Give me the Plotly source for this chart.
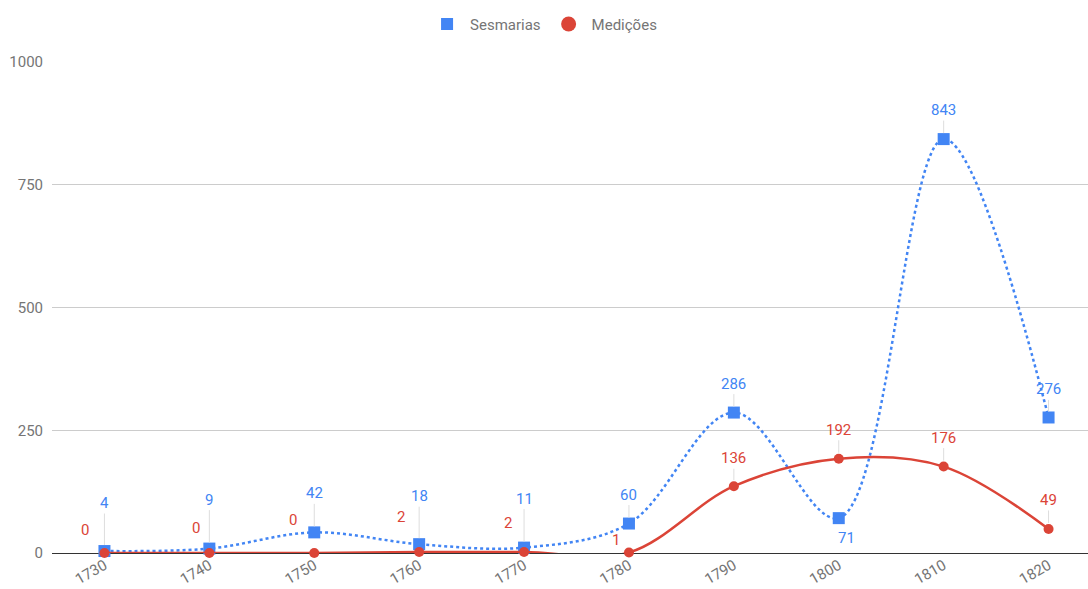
import plotly.graph_objects as go

decades = ["1730", "1740", "1750", "1760", "1770", "1780", "1790", "1800", "1810", "1820"]
sesmarias = [4, 9, 42, 18, 11, 60, 286, 71, 843, 276]
medicoes = [0, 0, 0, 2, 2, 1, 136, 192, 176, 49]

BLUE = "#4285F4"
RED = "#DB4437"
FONT = "Roboto, Arial, sans-serif"

# label offsets in pixels (dx, dy) relative to each point; stem drawn when directly above
ses_offsets = [(0, -48), (0, -49), (0, -39), (0, -48), (0, -49), (0, -29), (0, -29), (8, 20), (0, -29), (0, -28)]
med_offsets = [(-19, -23), (-13, -25), (-21, -33), (-18, -35), (-16, -29), (-13, -13), (0, -28), (0, -29), (0, -29), (0, -29)]

x = list(range(len(decades)))

fig = go.Figure()
fig.add_trace(go.Scatter(
    x=x, y=sesmarias, name="Sesmarias", mode="lines+markers", showlegend=False,
    line=dict(color=BLUE, width=2.5, dash="dot", shape="spline", smoothing=1),
    marker=dict(symbol="square", size=12, color=BLUE),
    cliponaxis=False,
))
fig.add_trace(go.Scatter(
    x=x, y=medicoes, name="Medições", mode="lines+markers", showlegend=False,
    line=dict(color=RED, width=2.5, shape="spline", smoothing=1),
    marker=dict(symbol="circle", size=10, color=RED),
    cliponaxis=False,
))
# legend entries: markers only
fig.add_trace(go.Scatter(x=[None], y=[None], name="Sesmarias", mode="markers",
                         marker=dict(symbol="square", size=12, color=BLUE)))
fig.add_trace(go.Scatter(x=[None], y=[None], name="Medições", mode="markers",
                         marker=dict(symbol="circle", size=15, color=RED)))

annotations = []
for values, offsets, color in ((sesmarias, ses_offsets, BLUE), (medicoes, med_offsets, RED)):
    for i, (v, (dx, dy)) in enumerate(zip(values, offsets)):
        if dx == 0:
            annotations.append(dict(
                x=i, y=v, xref="x", yref="y", text=str(v), showarrow=True,
                arrowhead=0, arrowwidth=1, arrowcolor="#dddddd", ax=0, ay=dy,
                standoff=6, font=dict(family=FONT, size=15, color=color),
            ))
        else:
            annotations.append(dict(
                x=i, y=v, xref="x", yref="y", text=str(v), showarrow=False,
                xshift=dx, yshift=-dy, font=dict(family=FONT, size=15, color=color),
            ))

fig.update_layout(
    width=1088, height=589,
    margin=dict(l=52, r=0, t=62, b=36),
    paper_bgcolor="white", plot_bgcolor="white",
    font=dict(family=FONT, size=15, color="#757575"),
    showlegend=True,
    legend=dict(orientation="h", x=0.474, xanchor="center", y=1.077, yanchor="middle",
                font=dict(family=FONT, size=15, color="#757575"), itemwidth=36,
                tracegroupgap=0),
    annotations=annotations,
    xaxis=dict(
        range=[-0.5, 9.376], tickvals=x, ticktext=decades, tickangle=-30,
        showgrid=False, zeroline=False, showline=False, ticks="",
        tickfont=dict(family=FONT, size=15, color="#757575"),
    ),
    yaxis=dict(
        range=[0, 1000], tickvals=[0, 250, 500, 750, 1000],
        showgrid=True, gridcolor="#cccccc", gridwidth=1,
        zeroline=True, zerolinecolor="#333333", zerolinewidth=1,
        showline=False, ticks="", ticklabelstandoff=8,
        tickfont=dict(family=FONT, size=15, color="#757575"),
    ),
)

fig.write_html("out.html")
